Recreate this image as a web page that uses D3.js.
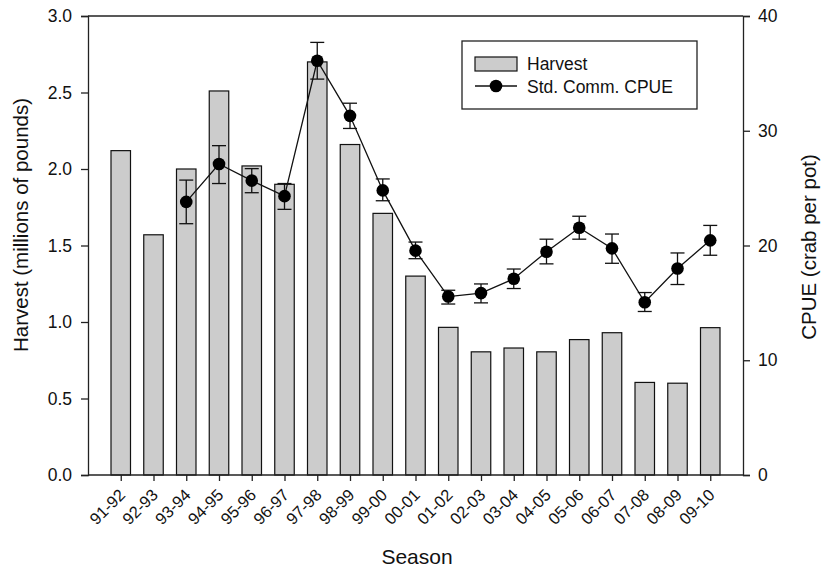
<!DOCTYPE html>
<html>
<head>
<meta charset="utf-8">
<script src="https://cdn.jsdelivr.net/npm/d3@7"></script>
<style>
  html, body { margin: 0; padding: 0; background: #fff; }
  svg { display: block; font-family: "Liberation Sans", Arial, sans-serif; }
</style>
</head>
<body>
<svg id="chart" width="822" height="568"></svg>
<script>
// Seasons along the x axis
const seasons = ["91-92","92-93","93-94","94-95","95-96","96-97","97-98","98-99","99-00","00-01",
                 "01-02","02-03","03-04","04-05","05-06","06-07","07-08","08-09","09-10"];
// Harvest, millions of pounds
const harvest = [2.12, 1.57, 2.00, 2.51, 2.02, 1.90, 2.70, 2.16, 1.71, 1.30,
                 0.965, 0.805, 0.83, 0.805, 0.885, 0.93, 0.605, 0.60, 0.963];
// Standardized commercial CPUE (crab per pot); null where not available
const cpue = [null, null, 23.8, 27.1, 25.65, 24.3, 36.1, 31.3, 24.8, 19.55,
              15.55, 15.85, 17.1, 19.45, 21.55, 19.75, 15.05, 18.0, 20.45];
const cpueLow = [null, null, 21.9, 25.4, 24.6, 23.15, 34.5, 30.2, 23.9, 18.85,
                 14.9, 15.0, 16.25, 18.4, 20.55, 18.45, 14.25, 16.6, 19.15];
const cpueHigh = [null, null, 25.7, 28.7, 26.7, 25.4, 37.7, 32.4, 25.8, 20.3,
                  16.1, 16.65, 17.95, 20.55, 22.55, 21.0, 15.9, 19.35, 21.75];
const leftTicks = [0, 0.5, 1.0, 1.5, 2.0, 2.5, 3.0];
const rightTicks = [0, 10, 20, 30, 40];

const svg = d3.select("#chart");
const L = 88, R = 743, T = 16, B = 475;

const x = d3.scalePoint().domain(seasons).range([L, R]).padding(1);
const yL = d3.scaleLinear().domain([0, 3]).range([B, T]);
const yR = d3.scaleLinear().domain([0, 40]).range([B, T]);
const barW = 19.5;

// Bars
svg.append("g").selectAll("rect").data(seasons).join("rect")
  .attr("x", d => x(d) - barW / 2)
  .attr("y", (d, i) => yL(harvest[i]))
  .attr("width", barW)
  .attr("height", (d, i) => B - yL(harvest[i]))
  .attr("fill", "#cccccc")
  .attr("stroke", "#111")
  .attr("stroke-width", 1.2);

// Plot frame: top edge
svg.append("line").attr("x1", L).attr("x2", R).attr("y1", T).attr("y2", T)
  .attr("stroke", "#222").attr("stroke-width", 1.3);

// Axes
const axisStyle = g => {
  g.selectAll("path, line").attr("stroke", "#222").attr("stroke-width", 1.3);
  g.selectAll("text").attr("fill", "#111").style("font-family", "'Liberation Sans', Arial, sans-serif");
};

svg.append("g").attr("transform", `translate(${L},0)`)
  .call(d3.axisLeft(yL).tickValues(leftTicks).tickFormat(d3.format(".1f")).tickSizeOuter(0).tickSize(7).tickPadding(9))
  .call(axisStyle)
  .selectAll("text").style("font-size", "17.5px");

svg.append("g").attr("transform", `translate(${R},0)`)
  .call(d3.axisRight(yR).tickValues(rightTicks).tickFormat(d3.format("d")).tickSizeOuter(0).tickSize(7).tickPadding(8))
  .call(axisStyle)
  .selectAll("text").style("font-size", "17.5px");

const xAxis = svg.append("g").attr("transform", `translate(0,${B})`)
  .call(d3.axisBottom(x).tickSizeOuter(0).tickSize(6))
  .call(axisStyle);
xAxis.select(".domain").attr("d", `M${L},0H${R}`);
xAxis.selectAll("text")
  .style("font-size", "16.5px")
  .attr("text-anchor", "end")
  .attr("x", 0)
  .attr("y", 0)
  .attr("dy", null)
  .attr("transform", "translate(5,21) rotate(-45)");

// CPUE error bars
const ebIdx = d3.range(seasons.length).filter(i => cpue[i] !== null);
const capW = 7;
const eb = svg.append("g").attr("stroke", "#111").attr("stroke-width", 1.3);
eb.selectAll(".v").data(ebIdx).join("line")
  .attr("x1", i => x(seasons[i])).attr("x2", i => x(seasons[i]))
  .attr("y1", i => yR(cpueLow[i])).attr("y2", i => yR(cpueHigh[i]));
eb.selectAll(".hi").data(ebIdx).join("line")
  .attr("x1", i => x(seasons[i]) - capW).attr("x2", i => x(seasons[i]) + capW)
  .attr("y1", i => yR(cpueHigh[i])).attr("y2", i => yR(cpueHigh[i]));
eb.selectAll(".lo").data(ebIdx).join("line")
  .attr("x1", i => x(seasons[i]) - capW).attr("x2", i => x(seasons[i]) + capW)
  .attr("y1", i => yR(cpueLow[i])).attr("y2", i => yR(cpueLow[i]));

// CPUE line and markers
const line = d3.line()
  .defined(i => cpue[i] !== null)
  .x(i => x(seasons[i]))
  .y(i => yR(cpue[i]));
svg.append("path").datum(d3.range(seasons.length))
  .attr("d", line).attr("fill", "none").attr("stroke", "#111").attr("stroke-width", 1.3);
svg.append("g").selectAll("circle").data(ebIdx).join("circle")
  .attr("cx", i => x(seasons[i])).attr("cy", i => yR(cpue[i]))
  .attr("r", 6.3).attr("fill", "#000");

// Legend
const lg = svg.append("g");
lg.append("rect").attr("x", 462).attr("y", 41).attr("width", 235).attr("height", 68)
  .attr("fill", "#fff").attr("stroke", "#222").attr("stroke-width", 1.3);
lg.append("rect").attr("x", 475).attr("y", 57).attr("width", 42).attr("height", 14)
  .attr("fill", "#cccccc").attr("stroke", "#111").attr("stroke-width", 1.2);
lg.append("text").attr("x", 527).attr("y", 70).text("Harvest")
  .style("font-size", "17.5px").attr("fill", "#111");
lg.append("line").attr("x1", 475).attr("x2", 517).attr("y1", 86).attr("y2", 86)
  .attr("stroke", "#111").attr("stroke-width", 1.3);
lg.append("circle").attr("cx", 496).attr("cy", 86).attr("r", 6.3).attr("fill", "#000");
lg.append("text").attr("x", 527).attr("y", 92.5).text("Std. Comm. CPUE")
  .style("font-size", "17.5px").attr("fill", "#111");

// Axis titles
svg.append("text").attr("transform", "translate(28,225) rotate(-90)")
  .attr("text-anchor", "middle").style("font-size", "20.5px").attr("fill", "#111")
  .text("Harvest (millions of pounds)");
svg.append("text").attr("transform", "translate(816,247) rotate(-90)")
  .attr("text-anchor", "middle").style("font-size", "20.5px").attr("fill", "#111")
  .text("CPUE (crab per pot)");
svg.append("text").attr("x", 417).attr("y", 564)
  .attr("text-anchor", "middle").style("font-size", "21px").attr("fill", "#111")
  .text("Season");
</script>
</body>
</html>
